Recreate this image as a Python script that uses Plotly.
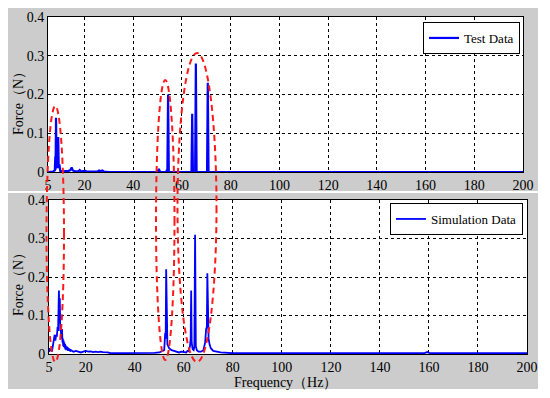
import plotly.graph_objects as go

# The page body adds an 8px offset, so the figure is sized to fill the rest of the window.
OFF = 8
W, H = 542, 382
SERIF = "Liberation Serif, DejaVu Serif, serif"

# ---------------- data ----------------
test_freq = [5.0, 7.0, 7.8, 8.0, 8.1, 8.3, 8.5, 8.7, 8.9, 9.2, 9.4, 9.7, 10.0, 11.0,
             13.5, 14.2, 14.7, 15.2, 16.0, 17.5, 18.0, 18.5, 20.4, 21.0, 25.5, 26.0,
             26.5, 27.3, 28.0, 30.0, 50.0, 50.5, 51.0, 53.6, 53.8, 54.0, 54.3, 54.6,
             63.9, 64.2, 64.5, 65.4, 65.7, 66.0, 70.3, 70.6, 70.9, 200.0]
test_force = [0.0, 0.001, 0.004, 0.04, 0.006, 0.14, 0.02, 0.05, 0.01, 0.09, 0.01, 0.02, 0.003, 0.002,
              0.003, 0.005, 0.012, 0.004, 0.002, 0.002, 0.005, 0.002, 0.003, 0.001, 0.002, 0.004,
              0.002, 0.004, 0.001, 0.0, 0.0, 0.008, 0.0, 0.0, 0.006, 0.0, 0.2, 0.0,
              0.0, 0.15, 0.0, 0.0, 0.28, 0.0, 0.0, 0.23, 0.0, 0.0]

sim_freq = [5.0, 5.2, 5.5, 5.8, 6.2, 6.6, 7.0, 7.3, 7.6, 7.9, 8.2, 8.5, 8.7, 8.9, 9.05, 9.2,
            9.4, 9.6, 9.8, 10.0, 10.15, 10.3, 10.5, 10.65, 10.8, 10.95, 11.1, 11.25, 11.4,
            11.55, 11.7, 11.85, 12.0, 12.2, 12.4, 12.6, 12.8, 13.0, 13.2, 13.4, 13.6, 14.0,
            14.5, 15.0, 16.0, 17.0, 18.0, 19.0, 20.0, 21.0, 22.0, 23.0, 24.0,
            25.0, 26.0, 27.0, 28.0, 29.0, 30.0, 35.0, 40.0, 45.0, 48.0, 50.0, 51.0, 52.0,
            52.4, 52.6, 52.8, 53.0, 53.3, 54.0, 55.0, 56.0, 57.0, 58.0, 59.0, 60.0, 61.0,
            61.5, 62.0, 62.5, 62.8, 63.0, 63.2, 63.6, 64.0, 64.3, 64.6, 64.9, 65.3, 66.0,
            67.0, 68.0, 68.7, 69.1, 69.4, 69.6, 69.8, 70.1, 70.5, 71.0, 72.0, 73.0, 75.0,
            80.0, 100.0, 158.0, 159.3, 160.5, 200.0]
sim_force = [0.005, 0.015, 0.008, 0.012, 0.006, 0.02, 0.03, 0.05, 0.035, 0.05, 0.045, 0.07, 0.06, 0.1, 0.165, 0.08,
             0.145, 0.06, 0.07, 0.04, 0.055, 0.065, 0.03, 0.04, 0.02, 0.035, 0.018, 0.03, 0.015,
             0.026, 0.012, 0.022, 0.01, 0.02, 0.01, 0.018, 0.008, 0.015, 0.008, 0.013, 0.007, 0.01,
             0.008, 0.006, 0.008, 0.005, 0.004, 0.006, 0.008, 0.006, 0.007, 0.005, 0.006,
             0.005, 0.006, 0.005, 0.005, 0.004, 0.002, 0.002, 0.003, 0.003, 0.003, 0.004, 0.006, 0.01,
             0.055, 0.04, 0.22, 0.05, 0.025, 0.015, 0.01, 0.008, 0.005, 0.004, 0.006, 0.005, 0.004,
             0.008, 0.007, 0.02, 0.04, 0.165, 0.03, 0.012, 0.01, 0.02, 0.31, 0.02, 0.01, 0.006,
             0.006, 0.01, 0.03, 0.065, 0.07, 0.21, 0.06, 0.04, 0.025, 0.015, 0.008, 0.006, 0.004,
             0.002, 0.002, 0.002, 0.005, 0.002, 0.002]

x_ticks = [5, 20, 40, 60, 80, 100, 120, 140, 160, 180, 200]
y_ticks = [0, 0.1, 0.2, 0.3, 0.4]

# ---------------- layout helpers (window pixel -> paper) ----------------
def px(p):
    return (p - OFF) / W

def py(p):
    return 1 - (p - OFF) / H

top_dom_x = [px(48), px(523)]
top_dom_y = [py(172), py(17)]
bot_dom_x = [px(49), px(527)]
bot_dom_y = [py(354), py(200)]

BLUE = "#0000ff"
fig = go.Figure()
fig.add_trace(go.Scatter(x=test_freq, y=test_force, mode="lines", name="Test Data",
                         line=dict(color=BLUE, width=2.2), xaxis="x", yaxis="y",
                         legend="legend"))
fig.add_trace(go.Scatter(x=sim_freq, y=sim_force, mode="lines", name="Simulation Data",
                         line=dict(color=BLUE, width=1.8), xaxis="x2", yaxis="y2",
                         legend="legend2"))

axis_common = dict(showline=True, linecolor="black", linewidth=1, mirror=True,
                   showgrid=True, gridcolor="black", gridwidth=1, griddash="dot",
                   zeroline=False, ticks="", layer="below traces", automargin=False,
                   tickfont=dict(family=SERIF, size=14, color="black"))

fig.update_layout(
    width=W, height=H,
    margin=dict(l=0, r=0, t=0, b=0, pad=0),
    font=dict(family=SERIF, size=14, color="black"),
    paper_bgcolor="white", plot_bgcolor="white",
    xaxis=dict(domain=top_dom_x, range=[5, 200], tickvals=x_ticks, anchor="y", **axis_common),
    yaxis=dict(domain=top_dom_y, range=[0, 0.4], tickvals=y_ticks, anchor="x", **axis_common),
    xaxis2=dict(domain=bot_dom_x, range=[5, 200], tickvals=x_ticks, anchor="y2", **axis_common),
    yaxis2=dict(domain=bot_dom_y, range=[0, 0.4], tickvals=y_ticks, anchor="x2", **axis_common),
    legend=dict(x=px(520), y=py(22), xanchor="right", yanchor="top", bgcolor="white",
                bordercolor="black", borderwidth=1, itemwidth=30,
                font=dict(family=SERIF, size=13, color="black")),
    legend2=dict(x=px(523), y=py(203), xanchor="right", yanchor="top", bgcolor="white",
                 bordercolor="black", borderwidth=1, itemwidth=30,
                 font=dict(family=SERIF, size=13, color="black")),
    showlegend=True,
)

GRAY = "#cccccc"
shapes = [
    dict(type="rect", xref="paper", yref="paper", x0=px(8), x1=px(538), y0=py(191), y1=py(8),
         fillcolor=GRAY, line=dict(width=0), layer="below"),
    dict(type="rect", xref="paper", yref="paper", x0=px(8), x1=px(538), y0=py(389), y1=py(193),
         fillcolor=GRAY, line=dict(width=0), layer="below"),
    dict(type="rect", xref="paper", yref="paper", x0=top_dom_x[0], x1=top_dom_x[1],
         y0=top_dom_y[0], y1=top_dom_y[1], fillcolor="white", line=dict(width=0), layer="below"),
    dict(type="rect", xref="paper", yref="paper", x0=bot_dom_x[0], x1=bot_dom_x[1],
         y0=bot_dom_y[0], y1=bot_dom_y[1], fillcolor="white", line=dict(width=0), layer="below"),
]
RED = "#ff1a1a"
for (x0, x1, y0, y1) in [(46.5, 64, 106, 362), (156, 174.5, 80, 360), (177.5, 216.5, 53, 362)]:
    shapes.append(dict(type="circle", xref="paper", yref="paper",
                       x0=px(x0), x1=px(x1), y0=py(y1), y1=py(y0),
                       line=dict(color=RED, width=2, dash="6px,4px"),
                       fillcolor="rgba(0,0,0,0)", layer="above"))
fig.update_layout(shapes=shapes)

annots = [
    dict(text="Force（N）", x=px(18), y=py(100), textangle=-90),
    dict(text="Force（N）", x=px(18), y=py(281), textangle=-90),
    dict(text="Frequency（Hz）", x=px(285), y=py(382), textangle=0),
]
fig.update_layout(annotations=[dict(xref="paper", yref="paper", showarrow=False,
                                    xanchor="center", yanchor="middle",
                                    font=dict(family=SERIF, size=14, color="black"), **a)
                               for a in annots])

fig.write_html("out.html", config={"displayModeBar": False})
